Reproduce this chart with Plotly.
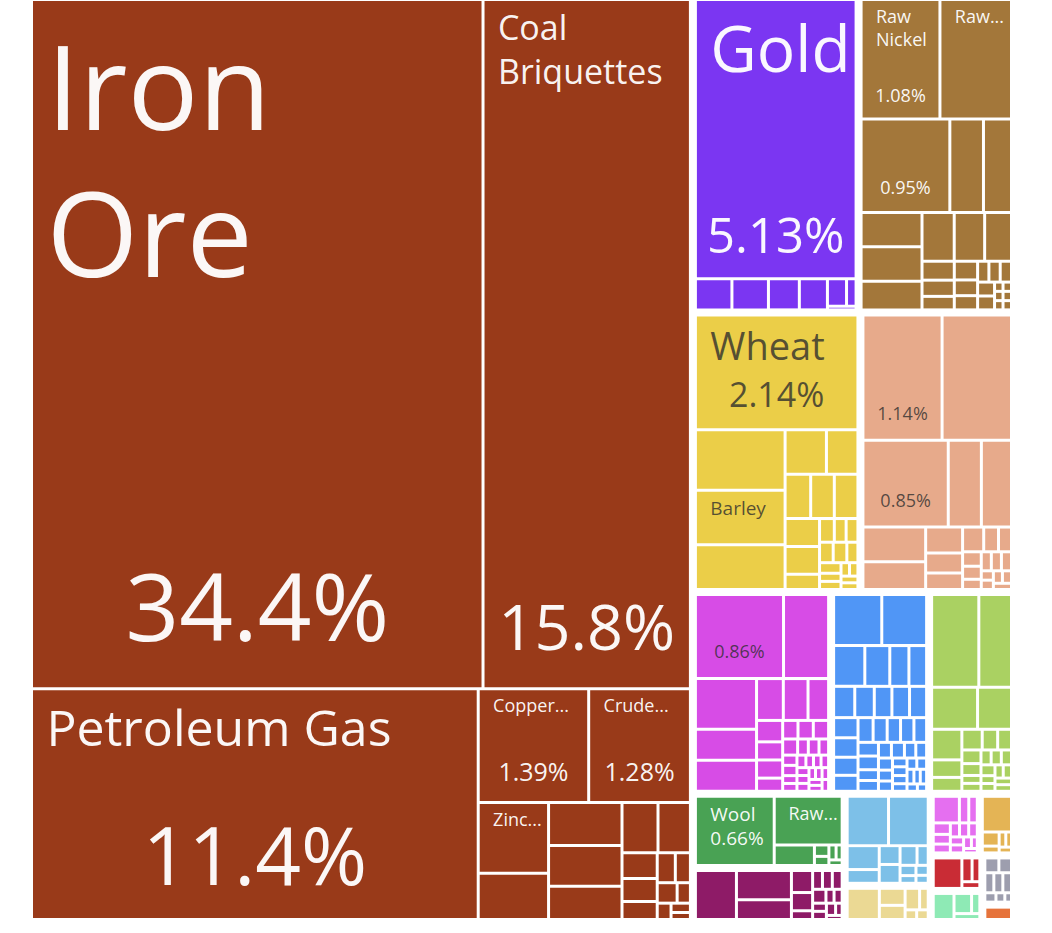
import plotly.graph_objects as go

# ---------------- data (share of exports, %) ----------------
mineral_names = ["Iron Ore", "Coal Briquettes", "Petroleum Gas", "Copper Ore", "Crude Petroleum",
                 "Zinc Ore", "Lead Ore", "Refined Petroleum", "Titanium Ore", "Manganese Ore",
                 "Aluminium Ore", "Coke", "Zirconium Ore", "Niobium Ore", "Precious Metal Ore",
                 "Sulfur", "Salt", "Nickel Ore", "Petroleum Coke", "Gypsum", "Sand", "Clay"]
mineral_values = [34.4, 15.8, 11.4, 1.39, 1.28,
                  0.55, 0.36, 0.35, 0.33, 0.27,
                  0.20, 0.18, 0.10, 0.09, 0.07,
                  0.06, 0.05, 0.045, 0.03, 0.025, 0.02, 0.015]

precious_names = ["Gold", "Platinum", "Silver", "Precious Metal Scraps", "Jewellery",
                  "Diamonds", "Pearls", "Coins"]
precious_values = [5.13, 0.13, 0.13, 0.11, 0.10, 0.06, 0.03, 0.012]

metals_names = ["Raw Nickel", "Raw Aluminium", "Refined Copper", "Raw Zinc", "Raw Lead",
                "Ferroalloys", "Aluminium Plating", "Scrap Iron", "Nickel Mattes", "Hot-Rolled Iron",
                "Aluminium Bars", "Iron Structures", "Raw Tin", "Copper Wire", "Aluminium Foil",
                "Iron Pipes", "Scrap Aluminium", "Steel Ingots", "Tools", "Screws",
                "Aluminium Structures", "Metal Containers", "Cobalt", "Titanium", "Tungsten",
                "Locks", "Cutlery", "Wire"]
metals_values = [1.08, 0.98, 0.95, 0.36, 0.30,
                 0.24, 0.24, 0.20, 0.18, 0.17,
                 0.15, 0.07, 0.06, 0.05, 0.05,
                 0.042, 0.038, 0.027, 0.027, 0.027,
                 0.027, 0.027, 0.009, 0.009, 0.009,
                 0.009, 0.009, 0.009]

veg_names = ["Wheat", "Rapeseed", "Barley", "Dried Legumes", "Citrus",
             "Almonds", "Sorghum", "Grapes", "Rice", "Malt",
             "Fodder Crops", "Oats", "Cotton Seeds", "Tree Nuts", "Flour",
             "Seeds for Sowing", "Onions", "Cereal Meals", "Potatoes", "Hops",
             "Spices", "Fresh Fruit", "Tea", "Coffee", "Ginger"]
veg_values = [2.14, 0.62, 0.56, 0.46, 0.21,
              0.16, 0.13, 0.12, 0.12, 0.11,
              0.11, 0.06, 0.04, 0.032, 0.032,
              0.032, 0.032, 0.026, 0.026, 0.02,
              0.02, 0.013, 0.013, 0.013, 0.013]

animal_names = ["Frozen Bovine Meat", "Bovine Meat", "Sheep and Goat Meat", "Concentrated Milk", "Cheese",
                "Crustaceans", "Bovine", "Fish Fillets", "Butter", "Honey",
                "Animal Fat", "Molluscs", "Frozen Fish", "Offal", "Pig Meat",
                "Poultry Meat", "Eggs", "Horses", "Sheep and Goats", "Whey",
                "Animal Hair", "Fish Fat", "Bones", "Feathers"]
animal_values = [1.14, 1.00, 0.85, 0.33, 0.30,
                 0.25, 0.20, 0.11, 0.085, 0.07,
                 0.06, 0.042, 0.037, 0.031, 0.028,
                 0.022, 0.022, 0.022, 0.022, 0.013,
                 0.013, 0.013, 0.013, 0.013]

chem_names = ["Packaged Medicaments", "Aluminium Oxide", "Blood, Antisera, Vaccines", "Pesticides", "Nitrogenous Fertilizers",
              "Beauty Products", "Vitamins", "Gelatin", "Soap", "Hair Products",
              "Perfumes", "Ethanol", "Titanium Oxides", "Cleaning Products", "Glues",
              "Lubricants", "Sulfuric Acid", "Ammonia", "Explosives", "Paints",
              "Inks", "Enzymes", "Hormones", "Antibiotics", "Medical Dressings",
              "Activated Carbon", "Fluorides", "Sulfates", "Chlorides", "Carbonates",
              "Hydrogen Peroxide", "Essential Oils", "Starches", "Photographic Film", "Matches",
              "Candles"]
chem_values = [0.86, 0.44, 0.36, 0.22, 0.22,
               0.13, 0.12, 0.10, 0.065, 0.055,
               0.055, 0.04, 0.033, 0.033, 0.033,
               0.028, 0.02, 0.02, 0.018, 0.017,
               0.017, 0.013, 0.013, 0.013, 0.011,
               0.011, 0.011, 0.011, 0.011, 0.011,
               0.009, 0.009, 0.009, 0.009, 0.009,
               0.009]

mach_names = ["Centrifuges", "Telephones", "Computers", "Broadcasting Equipment", "Gas Turbines",
              "Valves", "Pumps", "Electrical Transformers", "Excavation Machinery", "Engine Parts",
              "Industrial Printers", "Electric Motors", "Air Conditioners", "Lifting Machinery", "Integrated Circuits",
              "Electrical Control Boards", "Low-voltage Protection Equipment", "Insulated Wire", "Machinery Parts", "Refrigerators",
              "Spark-ignition Engines", "Electric Batteries", "Liquid Pumps", "Ball Bearings", "Office Machine Parts",
              "Electric Heaters", "Video Displays", "Semiconductor Devices", "Electrical Capacitors", "Agricultural Machinery",
              "Packing Machinery", "Metalworking Machines", "Textile Machinery", "Dishwashers", "Washing Machines",
              "Electric Filament", "Microphones", "Sound Recordings", "Electrical Ignitions", "Transmissions",
              "Scales", "Sewing Machines"]
mach_values = [0.29, 0.27, 0.15, 0.12, 0.092,
               0.085, 0.078, 0.072, 0.065, 0.065,
               0.063, 0.058, 0.056, 0.052, 0.046,
               0.044, 0.041, 0.039, 0.039, 0.037,
               0.033, 0.033, 0.026, 0.026, 0.024,
               0.024, 0.021, 0.02, 0.02, 0.018,
               0.017, 0.015, 0.015, 0.014, 0.013,
               0.013, 0.013, 0.012, 0.011, 0.011,
               0.009, 0.008]

food_names = ["Wine", "Raw Sugar", "Animal Food", "Other Edible Preparations", "Hard Liquor",
              "Baked Goods", "Sauces and Seasonings", "Fruit Juice", "Processed Cereals", "Pasta",
              "Beer", "Chocolate", "Flavored Water", "Processed Fish", "Tobacco",
              "Prepared Meat", "Jams", "Coffee Extracts", "Vinegar", "Soups",
              "Sugar Confectionery", "Preserved Vegetables", "Yeast", "Ice Cream"]
food_values = [0.52, 0.36, 0.23, 0.17, 0.11,
               0.063, 0.05, 0.05, 0.038, 0.034,
               0.031, 0.027, 0.018, 0.018, 0.018,
               0.018, 0.018, 0.018, 0.013, 0.013,
               0.013, 0.013, 0.013, 0.013]

textile_names = ["Wool", "Raw Cotton", "Wool Tops", "Synthetic Fabrics", "Knit Sweaters",
                 "Cotton Yarn", "Carpets", "Twine"]
textile_values = [0.66, 0.40, 0.10, 0.02, 0.016, 0.013, 0.011, 0.009]

transport_names = ["Vehicle Parts", "Aircraft Parts", "Cars", "Delivery Trucks", "Planes, Helicopters",
                   "Pleasure Boats", "Trailers", "Tractors", "Motorcycles", "Special Purpose Vehicles",
                   "Buses", "Railway Cars", "Bicycles", "Passenger Ships", "Spacecraft",
                   "Tugboats", "Wheelchairs"]
transport_values = [0.25, 0.20, 0.135, 0.058, 0.048,
                    0.023, 0.023, 0.023, 0.023, 0.023,
                    0.014, 0.014, 0.014, 0.014, 0.014,
                    0.01, 0.008]

instr_names = ["Medical Instruments", "Orthopedic Appliances", "Other Measuring Instruments",
               "Liquid Measuring Instruments", "Electrical Measuring Instruments", "Optical Fibers",
               "X-Ray Equipment", "Photo Lab Equipment", "Lenses", "Navigation Equipment",
               "Surveying Equipment", "Thermostats"]
instr_values = [0.25, 0.24, 0.094, 0.054, 0.048, 0.048, 0.041, 0.027, 0.02, 0.015, 0.015, 0.012]

paper_names = ["Printed Books", "Paper Containers", "Kraft Paper", "Newspapers", "Toilet Paper",
               "Labels", "Wallpaper"]
paper_values = [0.135, 0.059, 0.049, 0.042, 0.025, 0.015, 0.015]

plastic_names = ["Plastic Lids", "Rubber Tires", "Polyethylene", "Plastic Pipes", "Plastic Sheets",
                 "Rubber Belts", "Polypropylene", "Plastic Housewares", "Synthetic Rubber", "Rubber Hoses",
                 "Polystyrene", "PVC", "Rubber Gloves", "Scrap Plastic"]
plastic_values = [0.092, 0.033, 0.03, 0.026, 0.022, 0.02, 0.017, 0.017, 0.016, 0.014,
                  0.014, 0.012, 0.009, 0.008]

hides_names = ["Raw Hides", "Tanned Leather", "Sheep Hides", "Leather Goods", "Furskins", "Saddlery"]
hides_values = [0.145, 0.033, 0.016, 0.014, 0.012, 0.01]

misc_names = ["Furniture", "Toys", "Prefabricated Buildings", "Brooms"]
misc_values = [0.123, 0.034, 0.026, 0.017]

stone_names = ["Glass Bottles", "Cement", "Ceramic Tiles", "Glass Fibers", "Worked Stone",
               "Asbestos Fibers", "Mica", "Bricks"]
stone_values = [0.03, 0.027, 0.026, 0.026, 0.025, 0.015, 0.012, 0.009]

wood_names = ["Sawn Wood", "Wood Chips", "Plywood", "Wood Crates"]
wood_values = [0.078, 0.051, 0.024, 0.022]

footwear_names = ["Footwear"]
footwear_values = [0.06]

section_names = ["Mineral Products", "Precious Metals", "Metals", "Vegetable Products",
                 "Animal Products", "Chemical Products", "Machines", "Foodstuffs", "Textiles",
                 "Transportation", "Instruments", "Paper Goods", "Plastics and Rubbers",
                 "Animal Hides", "Miscellaneous", "Stone and Glass", "Wood Products",
                 "Footwear and Headwear"]
section_colors = ["#993a19", "#7b36f2", "#a3773a", "#ebce48",
                  "#e7aa8b", "#d74ce6", "#5096f6", "#aad162", "#49a254",
                  "#8e1b67", "#7dc0e8", "#ebd994", "#e56ff0",
                  "#e4b455", "#c92c35", "#9d9eae", "#8eeab5",
                  "#e6733b"]
section_dark_text = [False, False, False, True,
                     True, True, True, True, False,
                     False, True, True, True,
                     True, False, True, True, False]
section_items = [(mineral_names, mineral_values), (precious_names, precious_values),
                 (metals_names, metals_values), (veg_names, veg_values),
                 (animal_names, animal_values), (chem_names, chem_values),
                 (mach_names, mach_values), (food_names, food_values),
                 (textile_names, textile_values), (transport_names, transport_values),
                 (instr_names, instr_values), (paper_names, paper_values),
                 (plastic_names, plastic_values), (hides_names, hides_values),
                 (misc_names, misc_values), (stone_names, stone_values),
                 (wood_names, wood_values), (footwear_names, footwear_values)]

# labels shown (top-left) and shares shown (bottom centre)
label_text = {"Iron Ore": "Iron<br>Ore", "Coal Briquettes": "Coal<br>Briquettes",
              "Petroleum Gas": "Petroleum Gas", "Copper Ore": "Copper...",
              "Crude Petroleum": "Crude...", "Zinc Ore": "Zinc...", "Gold": "Gold",
              "Raw Nickel": "Raw<br>Nickel", "Raw Aluminium": "Raw...", "Wheat": "Wheat",
              "Barley": "Barley", "Wool": "Wool<br>0.66%", "Raw Cotton": "Raw..."}
label_size = {"Iron Ore": 118, "Coal Briquettes": 34, "Petroleum Gas": 50, "Copper Ore": 18,
              "Crude Petroleum": 18, "Zinc Ore": 18, "Gold": 64, "Raw Nickel": 18,
              "Raw Aluminium": 18, "Wheat": 38, "Barley": 19, "Wool": 19, "Raw Cotton": 19}
label_linebase = {"Iron Ore": 113, "Coal Briquettes": 34, "Wool": 19}
share_text = {"Iron Ore": "34.4%", "Coal Briquettes": "15.8%", "Petroleum Gas": "11.4%",
              "Copper Ore": "1.39%", "Crude Petroleum": "1.28%", "Gold": "5.13%",
              "Raw Nickel": "1.08%", "Refined Copper": "0.95%", "Wheat": "2.14%",
              "Frozen Bovine Meat": "1.14%", "Sheep and Goat Meat": "0.85%",
              "Packaged Medicaments": "0.86%"}
share_size = {"Iron Ore": 94, "Coal Briquettes": 63, "Petroleum Gas": 80, "Copper Ore": 25,
              "Crude Petroleum": 25, "Gold": 49, "Raw Nickel": 18, "Refined Copper": 18,
              "Wheat": 34, "Frozen Bovine Meat": 18, "Sheep and Goat Meat": 18,
              "Packaged Medicaments": 18}
# base size controls how far the share sits above the tile's bottom edge
share_base = {"Iron Ore": 33, "Coal Briquettes": 26, "Petroleum Gas": 23, "Copper Ore": 13,
              "Crude Petroleum": 13, "Gold": 16, "Raw Nickel": 10, "Refined Copper": 11,
              "Wheat": 14, "Frozen Bovine Meat": 12, "Sheep and Goat Meat": 12,
              "Packaged Medicaments": 12}

LIGHT = "rgba(255,255,255,0.96)"
DARK = "rgba(45,45,45,0.78)"
INDENT = "<span style='font-size:10px'>&nbsp;&nbsp;&nbsp;&nbsp;</span>"


def label_markup(n):
    s = label_text.get(n, "")
    if not s:
        return "", 12
    size = label_size[n]
    lines = [INDENT + "<span style='font-size:%dpx'>%s</span>" % (size, ln) for ln in s.split("<br>")]
    return "<br>".join(lines), label_linebase.get(n, size)


def share_markup(n):
    s = share_text.get(n, "")
    if not s:
        return "", 12
    return ("<span style='font-size:%dpx'>%s</span><br><span style='font-size:1px'>&nbsp;</span>"
            % (share_size[n], s)), share_base[n]


# ---------------- build hierarchy ----------------
ids, labels, parents, values, colors = ["root"], ["Australia"], [""], [0], ["white"]
txtA, txtB, sizeA, sizeB, fcol = [""], [""], [12], [12], [LIGHT]
for sec, col, dark, (names, vals) in zip(section_names, section_colors, section_dark_text, section_items):
    ids.append(sec); labels.append(sec); parents.append("root"); values.append(0); colors.append("white")
    txtA.append(""); txtB.append(""); sizeA.append(12); sizeB.append(12); fcol.append(LIGHT)
    for n, v in zip(names, vals):
        ids.append(sec + "/" + n); labels.append(n); parents.append(sec); values.append(v)
        colors.append(col)
        ta, sa = label_markup(n)
        tb, sb = share_markup(n)
        txtA.append(ta); sizeA.append(sa)
        txtB.append(tb); sizeB.append(sb)
        fcol.append(DARK if dark else LIGHT)

common = dict(ids=ids, labels=labels, parents=parents, values=values,
              branchvalues="remainder", sort=True, textinfo="text",
              tiling=dict(packing="squarify", squarifyratio=1.618, pad=3),
              pathbar=dict(visible=False), hoverinfo="label+value",
              root=dict(color="white"))

fig = go.Figure()
fig.add_trace(go.Treemap(
    **common, text=txtA, textposition="top left",
    marker=dict(colors=colors, line=dict(width=0), depthfade=False,
                pad=dict(t=0, l=2.5, r=2.5, b=5)),
    textfont=dict(family="Open Sans", size=sizeA, color=fcol),
))
fig.add_trace(go.Treemap(
    **common, text=txtB, textposition="bottom center",
    marker=dict(colors=["rgba(0,0,0,0)"] * len(ids), line=dict(width=0), depthfade=False,
                pad=dict(t=0, l=2.5, r=2.5, b=5)),
    textfont=dict(family="Open Sans", size=sizeB, color=fcol),
))
fig.update_layout(width=1052, height=933, margin=dict(l=28, r=37, t=1, b=5),
                  paper_bgcolor="white", plot_bgcolor="white", showlegend=False)
fig.write_html("out.html", config={"displayModeBar": False},
               post_script="document.body.style.margin='0px';")
